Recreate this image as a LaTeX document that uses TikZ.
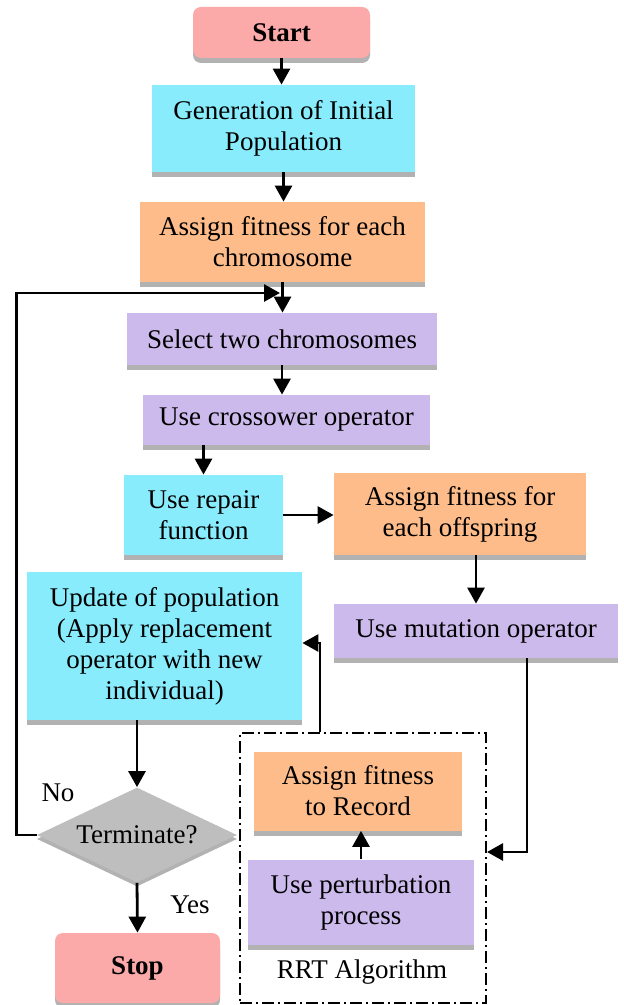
\documentclass[tikz,border=0pt]{standalone}
\usepackage{fontspec}
\setmainfont{Liberation Serif}
\usetikzlibrary{arrows.meta,shapes.geometric,shadows}
\definecolor{pinkbox}{HTML}{FCA9A9}
\definecolor{cyanbox}{HTML}{88ECFC}
\definecolor{orangebox}{HTML}{FDBC8A}
\definecolor{lilacbox}{HTML}{CCBAEC}
\definecolor{greybox}{HTML}{BEBEBE}
\tikzset{
    box/.style={rectangle, align=center, inner sep=2pt,
        font=\fontsize{13.5}{15.5}\selectfont,
        drop shadow={shadow xshift=0pt, shadow yshift=-2.5pt, opacity=1, fill=black!30}},
    endbox/.style={box, fill=pinkbox, rounded corners=4pt, font=\fontsize{13.5}{15.5}\selectfont\bfseries},
    arr/.style={-{Triangle[length=8pt,width=8.5pt]}, line width=1.4pt},
}
\begin{document}
\begin{tikzpicture}[x=0.5pt,y=-0.5pt]
                \useasboundingbox (0,0) rectangle (623,1005);
                % main column
                \node[endbox, minimum width=88.5pt, minimum height=25.5pt] (start) at (281.5,32.5) {Start};
                \node[box, fill=cyanbox, minimum width=131.5pt, minimum height=43.5pt] (gen) at (283.5,128.5) {Generation of Initial\\Population};
                \node[box, fill=orangebox, minimum width=142.5pt, minimum height=40pt] (fitc) at (282.5,242) {Assign fitness for each\\chromosome};
                \node[box, fill=lilacbox, minimum width=155pt, minimum height=26pt] (select) at (282,339) {Select two chromosomes};
                \node[box, fill=lilacbox, minimum width=143.5pt, minimum height=25pt] (cross) at (286.5,420) {Use crossower operator};
                \node[box, fill=cyanbox, minimum width=79.5pt, minimum height=40pt] (repair) at (203.5,515) {Use repair\\function};
                \node[box, fill=orangebox, minimum width=126pt, minimum height=41pt] (fito) at (460,514) {Assign fitness for\\each offspring};
                \node[box, fill=lilacbox, minimum width=142pt, minimum height=27pt] (mut) at (476,631) {Use mutation operator};
                \node[box, fill=cyanbox, minimum width=137.5pt, minimum height=74pt] (update) at (164.5,646) {Update of population\\(Apply replacement\\operator with new\\individual)};
                \node[diamond, fill=greybox, aspect=2.1, inner sep=0pt, minimum width=100pt, minimum height=47.5pt,
                    font=\fontsize{13.5}{15.5}\selectfont,
                    drop shadow={shadow xshift=0pt, shadow yshift=-2pt, opacity=1, fill=black!30}] (term) at (137,835) {Terminate?};
                \node[endbox, minimum width=82.5pt, minimum height=35pt] (stop) at (137.5,968) {Stop};
                % RRT part
                \node[draw, dash pattern=on 6pt off 2pt on 1pt off 2pt, line width=1pt, minimum width=123pt, minimum height=135pt] (rrt) at (363,868) {};
                \node[box, fill=orangebox, minimum width=104pt, minimum height=39.5pt] (record) at (358,791) {Assign fitness\\to Record};
                \node[box, fill=lilacbox, minimum width=113pt, minimum height=42.5pt] (perturb) at (361,902) {Use perturbation\\process};
                \node[font=\fontsize{13.5}{15.5}\selectfont] (rrtlabel) at (362,972) {RRT Algorithm};
                \coordinate (loop) at (280,293);
                % connectors
                \draw[arr] (start.south) -- (start.south |- gen.north);
                \draw[arr] (gen.south) -- (gen.south |- fitc.north);
                \draw[arr] (fitc.south) -- (fitc.south |- select.north);
                \draw[arr] (select.south) -- (select.south |- cross.north);
                \draw[arr] (repair.north |- cross.south) -- (repair.north);
                \draw[arr] (repair.east) -- (repair.east -| fito.west);
                \draw[arr] (mut.north |- fito.south) -- (mut.north);
                \draw[arr] ([xshift=25.5pt]mut.south) |- ([yshift=8pt]rrt.east);
                \draw[arr] (perturb.north) -- (perturb.north |- record.south);
                \draw[arr] ([xshift=-21.5pt]rrt.north) |- ([yshift=1.5pt]update.east);
                \draw[arr] (term.north |- update.south) -- (term.north);
                \draw[arr] (term.south) -- (stop.north);
                \draw[arr] (term.west) -- ++(-10pt,0) |- (loop);
                \node[font=\fontsize{13.5}{15.5}\selectfont] (no) at (58,793) {No};
                \node[font=\fontsize{13.5}{15.5}\selectfont] (yes) at (190,905) {Yes};
            \end{tikzpicture}
\end{document}
